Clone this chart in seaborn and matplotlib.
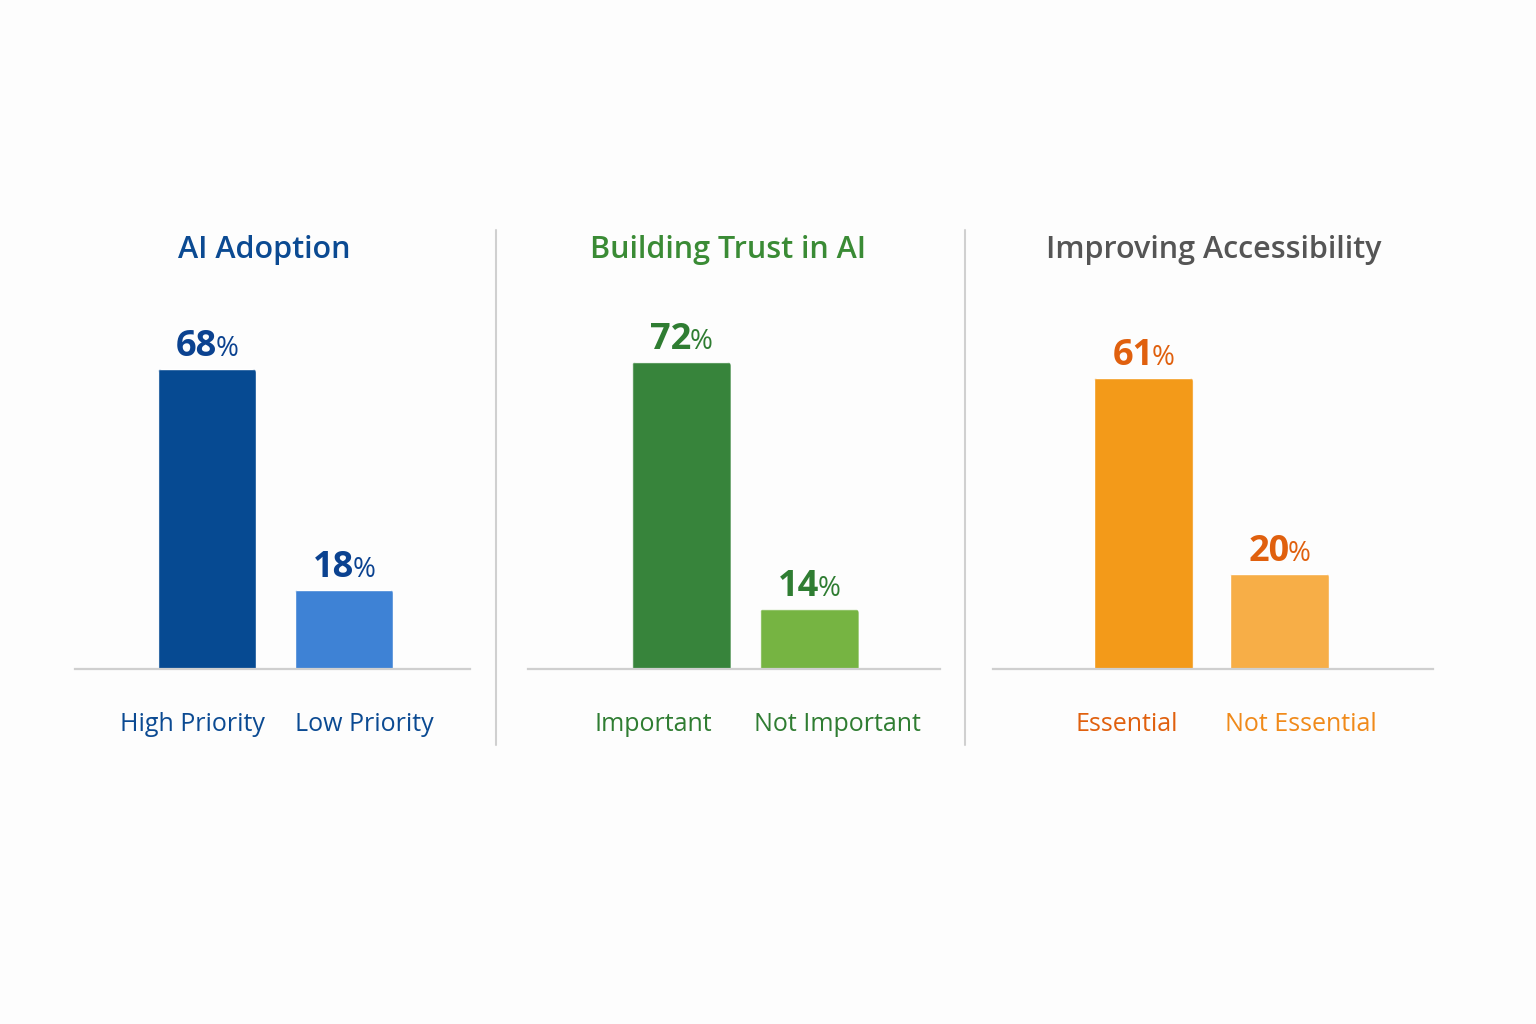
import matplotlib
matplotlib.use("Agg")
import matplotlib.pyplot as plt
import seaborn as sns
import pandas as pd
from matplotlib.patches import FancyBboxPatch

sns.set_theme(style="white")
plt.rcParams['font.family'] = ['Open Sans', 'DejaVu Sans']

# ---- data ----
titles = ["AI Adoption", "Building Trust in AI", "Improving Accessibility"]
categories_1 = ["High Priority", "Low Priority"]
values_1 = [68, 18]
categories_2 = ["Important", "Not Important"]
values_2 = [72, 14]
categories_3 = ["Essential", "Not Essential"]
values_3 = [61, 20]

# ---- styles ----
bar_colors = [["#064A92", "#3E82D5"], ["#37843B", "#76B442"], ["#F39A19", "#F7AE47"]]
title_colors = ["#0B4A92", "#3A8B35", "#555555"]
value_colors = ["#0B4290", "#2F7D32", "#E0600E"]
label_colors = [["#0B4A92", "#0B4A92"], ["#2F7D32", "#2F7D32"], ["#E0600E", "#F08A1A"]]

W, H = 1536, 1024
fig = plt.figure(figsize=(W / 100, H / 100), dpi=100)
fig.patch.set_facecolor("#FDFDFD")

AX_TOP, AX_BOT = 230, 669

def px_axes(x0, x1, ytop, ybot):
    return fig.add_axes([x0 / W, (H - ybot) / H, (x1 - x0) / W, (ybot - ytop) / H])

panels = [
    dict(cats=categories_1, vals=values_1, ax=(75, 470), xlim=(-0.964, 1.92), width=0.715, ytop=99.5, tx=264,
         lab_off=(-15, 20)),
    dict(cats=categories_2, vals=values_2, ax=(528, 940), xlim=(-1.2, 2.02), width=0.77, ytop=103, tx=728,
         lab_off=(-28, 28)),
    dict(cats=categories_3, vals=values_3, ax=(993, 1433), xlim=(-1.107, 2.13), width=0.73, ytop=92, tx=1214,
         lab_off=(-17, 21)),
]

axes = []
for i, p in enumerate(panels):
    ax = px_axes(p["ax"][0], p["ax"][1], AX_TOP, AX_BOT)
    ax.set_facecolor("none")
    df = pd.DataFrame({"cat": p["cats"], "val": p["vals"]})
    sns.barplot(data=df, x="cat", y="val", hue="cat", palette=bar_colors[i], width=p["width"],
                legend=False, ax=ax, saturation=1)
    ax.set_xlim(*p["xlim"])
    ax.set_ylim(0, p["ytop"])
    for s in ["top", "left", "right"]:
        ax.spines[s].set_visible(False)
    ax.spines["bottom"].set_color("#CFCFCF")
    ax.spines["bottom"].set_linewidth(1.6)
    ax.spines["bottom"].set_zorder(5)
    ax.set_yticks([])
    ax.set_xlabel("")
    ax.set_ylabel("")
    ax.tick_params(axis="x", length=0, pad=31, labelsize=18)
    for j, lab in enumerate(ax.get_xticklabels()):
        lab.set_color(label_colors[i][j])
        lab.set_fontsize(18)
        off = matplotlib.transforms.ScaledTranslation(p["lab_off"][j] / 100, 0, fig.dpi_scale_trans)
        lab.set_transform(lab.get_transform() + off)

    # rounded top corners via clip path (bars themselves stay as drawn by seaborn)
    px_per_x = (p["ax"][1] - p["ax"][0]) / (p["xlim"][1] - p["xlim"][0])
    px_per_y = (AX_BOT - AX_TOP) / p["ytop"]
    r = 4.0
    for bar in ax.patches:
        bx, by = bar.get_x(), bar.get_y()
        bw, bh = bar.get_width(), bar.get_height()
        ext = 2 * r / px_per_y
        clip = FancyBboxPatch((bx, by - ext), bw, bh + ext,
                              boxstyle=f"round,pad=0,rounding_size={r / px_per_x}",
                              mutation_aspect=px_per_x / px_per_y,
                              transform=ax.transData, facecolor="none", edgecolor="none")
        bar.set_clip_path(clip)

    fig.text(p["tx"] / W, 1 - 250 / H, titles[i], ha="center", va="center", fontsize=22,
             fontweight="semibold", color=title_colors[i])
    axes.append(ax)

# separators
for xs in [496, 965]:
    fig.add_artist(plt.Line2D([xs / W, xs / W], [1 - 230 / H, 1 - 745 / H], color="#D0D0D0", lw=1.5))

# value labels: bold number + smaller percent sign
fig.canvas.draw()
renderer = fig.canvas.get_renderer()
for i, p in enumerate(panels):
    ax = axes[i]
    for j, v in enumerate(p["vals"]):
        t1 = ax.annotate(f"{v}", xy=(j, v), xycoords="data", textcoords="offset pixels", xytext=(0, 13),
                         ha="left", va="baseline", fontsize=26, fontweight="bold", color=value_colors[i])
        t2 = ax.annotate("%", xy=(j, v), xycoords="data", textcoords="offset pixels", xytext=(0, 13),
                         ha="left", va="baseline", fontsize=20, color=value_colors[i])
        w1 = t1.get_window_extent(renderer).width
        w2 = t2.get_window_extent(renderer).width
        gap = -2
        total = w1 + gap + w2
        t1.set_position((-total / 2, 13))
        t2.set_position((-total / 2 + w1 + gap, 13))

fig.savefig("out.png", dpi=100, facecolor=fig.get_facecolor())
